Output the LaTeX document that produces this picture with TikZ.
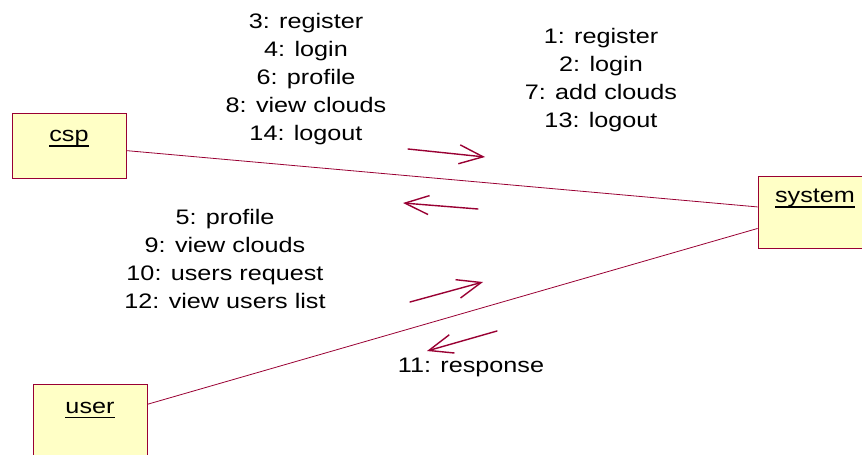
\documentclass[tikz,border=0pt]{standalone}
\usepackage{fontspec}
\setmainfont{Liberation Sans}[FakeStretch=1.2]
\usetikzlibrary{positioning,arrows.meta}

\definecolor{roseline}{RGB}{153,0,51}
\definecolor{rosefill}{RGB}{255,255,198}

% underlined object name with a fixed rule below the baseline
\newcommand{\objtext}[1]{\setbox0\hbox{#1}\rlap{\rule[-5pt]{\wd0}{1.8pt}}\box0}

\begin{document}
\begin{tikzpicture}[x=1pt, y=-1pt, >={Straight Barb[length=24pt,width=19pt]},
  obj/.style={draw=roseline, fill=rosefill, line width=0.8pt, minimum width=114pt, inner sep=0pt},
  objname/.style={anchor=base, inner sep=0pt, font=\fontsize{21}{25}\selectfont},
  link/.style={draw=roseline, line width=0.8pt},
  msg/.style={->, draw=roseline, line width=1.4pt, line cap=round},
  msglabel/.style={align=center, anchor=base, inner sep=0pt, font=\fontsize{21}{27.8}\selectfont}]
\useasboundingbox (0,0) rectangle (862,455);
\clip (0,0) rectangle (862,455);

% objects
\node[obj, minimum height=65pt] (csp) at (69,145.5) {};
\node[obj, minimum height=72pt, below=206pt of csp, xshift=21pt] (user) {};
\node[obj, minimum height=72pt] (system) at (815,212) {};
\node[objname] (csp-name) at ([yshift=-29pt]csp.north) {\objtext{csp}};
\node[objname] (user-name) at ([yshift=-29pt]user.north) {\objtext{user}};
\node[objname] (system-name) at ([yshift=-27pt]system.north) {\objtext{system}};

% links
\draw[link] (csp) -- (system);
\draw[link] (user) -- (system);

% messages
\coordinate (m1a) at (408,149);
\coordinate (m1b) at (485,157);
\coordinate (m2a) at (478,209);
\coordinate (m2b) at (403,203);
\coordinate (m3a) at (410,302);
\coordinate (m3b) at (483,282);
\coordinate (m4a) at (497,331);
\coordinate (m4b) at (427,351);
\draw[msg] (m1a) -- (m1b);
\draw[msg] (m2a) -- (m2b);
\draw[msg] (m3a) -- (m3b);
\draw[msg] (m4a) -- (m4b);

\node[msglabel] (csp-out) at (306,140)
  {3: register\\4: login\\6: profile\\8: view clouds\\14: logout};
\node[msglabel] (system-out) at (601,127)
  {1: register\\2: login\\7: add clouds\\13: logout};
\node[msglabel] (user-out) at (225,308)
  {5: profile\\9: view clouds\\10: users request\\12: view users list};
\node[msglabel] (user-in) at (471,372) {11: response};
\end{tikzpicture}
\end{document}
